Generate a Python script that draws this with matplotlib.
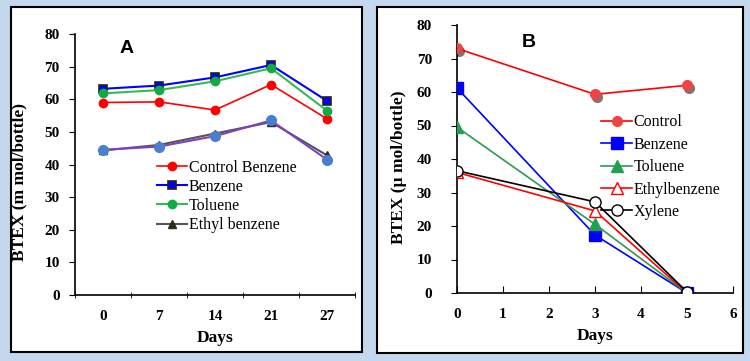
import matplotlib
matplotlib.use("Agg")
import matplotlib.pyplot as plt
from matplotlib.patches import Rectangle
import numpy as np

# Panel A data
days_a = ["0", "7", "14", "21", "27"]
control_benzene_a = [59.0, 59.2, 56.7, 64.5, 54.0]
benzene_a = [63.2, 64.2, 66.7, 70.5, 59.5]
toluene_a = [61.8, 62.8, 65.5, 69.5, 56.5]
ethylbenzene_a = [44.3, 46.0, 49.5, 53.0, 42.8]
xylene_a = [44.5, 45.5, 48.7, 53.5, 41.5]

# Panel B data
days_b = [0, 3, 5]
control_b = [73.0, 59.3, 62.0]
benzene_b = [61.2, 17.3, 0.0]
toluene_b = [49.5, 20.5, 0.0]
ethylbenzene_b = [36.0, 24.5, 0.0]
xylene_b = [36.5, 27.2, 0.3]

serif = ["Liberation Serif", "DejaVu Serif"]

fig = plt.figure(figsize=(7.5, 3.61), dpi=100)
fig.patch.set_facecolor("#c3d8ec")

# white panels
for (x0, y0, x1, y1) in [(11, 7, 362, 352), (377, 7, 743, 353)]:
    fig.add_artist(Rectangle((x0 / 750, 1 - y1 / 361), (x1 - x0) / 750, (y1 - y0) / 361,
                             transform=fig.transFigure, facecolor="white",
                             edgecolor="black", linewidth=1.5, zorder=0))

def style(ax):
    for s in ["top", "right"]:
        ax.spines[s].set_visible(False)
    for s in ["left", "bottom"]:
        ax.spines[s].set_linewidth(1.2)
    ax.set_facecolor("none")
    for lab in ax.get_xticklabels() + ax.get_yticklabels():
        lab.set_fontfamily(serif)
        lab.set_fontweight("bold")
        lab.set_fontsize(11)

# ---- Panel A ----
axA = fig.add_axes([75 / 750, 1 - 295 / 361, 280 / 750, 261 / 361])
xa = np.arange(len(days_a))
axA.plot(xa, xylene_a, color="#8040c0", lw=1.5, marker="o", ms=7,
         mfc="#4a7fd0", mec="#4a7fd0", zorder=3)
axA.plot(xa, ethylbenzene_a, color="#555555", lw=1.5, marker="^", ms=6,
         mfc="#2b2b20", mec="#2b2b20", label="Ethyl benzene", zorder=2)
axA.plot(xa, control_benzene_a, color="red", lw=1.2, marker="o", ms=6,
         mfc="red", mec="red", label="Control Benzene")
axA.plot(xa, benzene_a, color="blue", lw=1.5, marker="s", ms=6,
         mfc="blue", mec="#222222", mew=1.2, label="Benzene")
axA.plot(xa, toluene_a, color="#33bb55", lw=1.5, marker="o", ms=6,
         mfc="#11aa44", mec="#11aa44", label="Toluene")
axA.set_xlim(-0.5, 4.5)
axA.set_ylim(0, 80)
axA.set_yticks(range(0, 81, 10))
axA.set_xticks(xa)
axA.set_xticklabels(days_a)
axA.set_xticks(np.arange(-0.5, 4.6, 1), minor=True)
axA.tick_params(axis="x", which="major", length=0, pad=11)
axA.tick_params(axis="x", which="minor", length=4, direction="inout")
axA.tick_params(axis="y", length=4, direction="out", pad=7)
axA.set_xlabel("Days", fontfamily=serif, fontweight="bold", fontsize=12.5, labelpad=5)
axA.set_ylabel("BTEX (m mol/bottle)", fontfamily=serif, fontweight="bold", fontsize=12.5)
axA.yaxis.set_label_coords(-0.171, 0.433)
style(axA)
axA.text(0.16, 0.945, "A", transform=axA.transAxes, fontsize=14, fontweight="bold",
         family="Liberation Sans", va="center")
h, l = axA.get_legend_handles_labels()
order = ["Control Benzene", "Benzene", "Toluene", "Ethyl benzene"]
hh = [h[l.index(o)] for o in order]
axA.legend(hh, order, loc="upper left", bbox_to_anchor=(0.27, 0.543), frameon=False,
           prop={"family": serif, "size": 11.5}, handlelength=1.9, handletextpad=0.1,
           labelspacing=0.2, borderaxespad=0)

# ---- Panel B ----
axB = fig.add_axes([457 / 750, 1 - 293 / 361, 276 / 750, 268 / 361])
axB.plot(np.array(days_b) + 0.05, np.array(control_b) - 0.8, ls="none", marker="o",
         ms=7, mfc="#777777", mec="#777777", zorder=2)
axB.plot(days_b, control_b, color="red", lw=1.2, marker="o", ms=7,
         mfc="#ee4444", mec="#ee4444", label="Control", zorder=3)
axB.plot(days_b, benzene_b, color="blue", lw=1.2, marker="s", ms=8,
         mfc="blue", mec="blue", label="Benzene", zorder=3)
axB.plot(days_b, toluene_b, color="#2a9a55", lw=1.2, marker="^", ms=8,
         mfc="#22a050", mec="#22a050", label="Toluene", zorder=3)
axB.plot(days_b, ethylbenzene_b, color="red", lw=1.2, marker="^", ms=8,
         mfc="white", mec="red", label="Ethylbenzene", zorder=3)
axB.plot(days_b, xylene_b, color="black", lw=1.2, marker="o", ms=8,
         mfc="white", mec="black", label="Xylene", zorder=4)
axB.set_xlim(0, 6)
axB.set_ylim(0, 80)
axB.set_xticks(range(0, 7))
axB.set_yticks(range(0, 81, 10))
axB.tick_params(axis="x", length=5, direction="in", pad=11)
axB.tick_params(axis="y", length=4, direction="out", pad=14)
axB.set_xlabel("Days", fontfamily=serif, fontweight="bold", fontsize=12.5, labelpad=5)
axB.set_ylabel("BTEX (\u00b5 mol/bottle)", fontfamily=serif, fontweight="bold", fontsize=12.5)
axB.yaxis.set_label_coords(-0.181, 0.47)
style(axB)
axB.text(0.235, 0.935, "B", transform=axB.transAxes, fontsize=14, fontweight="bold",
         family="Liberation Sans", va="center")
axB.legend(loc="upper left", bbox_to_anchor=(0.5, 0.69), frameon=False,
           prop={"family": serif, "size": 11.5}, handlelength=1.9, handletextpad=0.1,
           labelspacing=0.4, borderaxespad=0)

fig.savefig("out.png", dpi=100, facecolor=fig.get_facecolor())
